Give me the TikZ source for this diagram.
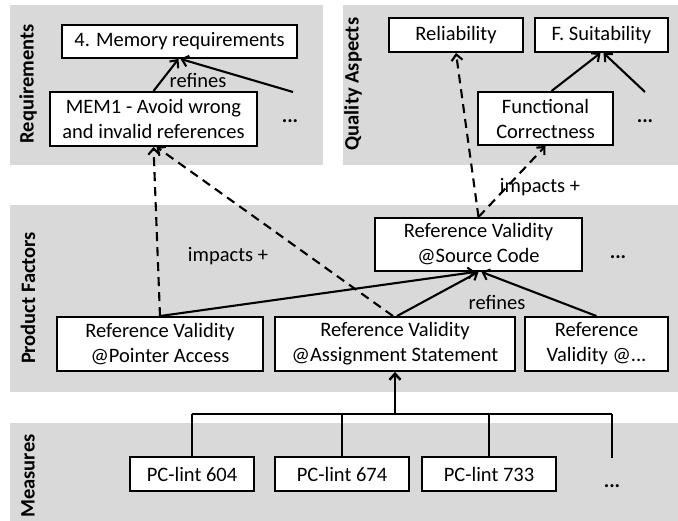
\documentclass[tikz,border=0pt]{standalone}
\usepackage{fontspec}
\setmainfont{Carlito}
\usetikzlibrary{arrows.meta}
\definecolor{panelgray}{RGB}{217,217,217}
\tikzset{
  panel/.style={fill=panelgray, draw=none},
  box/.style={draw=black, fill=white, line width=1.9pt, inner sep=0pt, align=center,
    font=\fontsize{20.5}{25}\selectfont},
  lbl/.style={font=\fontsize{20.5}{25}\selectfont, inner sep=0pt},
  dots/.style={font=\fontsize{20.5}{25}\selectfont\bfseries, inner sep=0pt},
  side/.style={font=\fontsize{20.5}{25}\selectfont\bfseries, rotate=90, inner sep=0pt},
  conn/.style={line width=2.1pt, -{Straight Barb[length=6pt,width=11pt,line width=2.1pt]}},
  dconn/.style={conn, dash pattern=on 9pt off 6pt},
  bus/.style={line width=2.8pt},
}
\begin{document}
\begin{tikzpicture}[x=1pt,y=-1pt]
\useasboundingbox (0,0) rectangle (678,521);
% panels
\fill[panel] (10,5) rectangle (323,165);
\fill[panel] (343,5) rectangle (678,165);
\fill[panel] (10,205) rectangle (678,392);
\fill[panel] (10,423) rectangle (678,521);
\node[side] (sreq) at (28,84) {Requirements};
\node[side] (sqa) at (353,84) {Quality Aspects};
\node[side] (spf) at (28,298) {Product Factors};
\node[side] (sme) at (28,476) {Measures};
% requirement nodes
\node[box, minimum width=235, minimum height=33] (mem4) at (179.5,41.5) {4. Memory requirements};
\node[box, minimum width=207, minimum height=54] (mem1) at (153.5,119) {MEM1 - Avoid wrong\\and invalid references};
\node[dots] (rdots) at (290,121) {...};
\coordinate (rfree) at (293,92);
% quality nodes
\node[box, minimum width=134, minimum height=34] (rel) at (456,35) {Reliability};
\node[box, minimum width=133, minimum height=34] (fs) at (601.5,35) {F. Suitability};
\node[box, minimum width=135, minimum height=53] (fc) at (545.5,118.5) {Functional\\Correctness};
\node[dots] (qdots) at (645,121) {...};
\coordinate (qfree) at (645,92);
% product factors
\node[box, minimum width=207, minimum height=53] (sc) at (478.5,244.5) {Reference Validity\\@Source Code};
\node[dots] (pdots) at (618,257) {...};
\node[box, minimum width=206, minimum height=54] (pa) at (160,344) {Reference Validity\\@Pointer Access};
\node[box, minimum width=240, minimum height=54] (as) at (395,344) {Reference Validity\\@Assignment Statement};
\node[box, minimum width=143, minimum height=54] (rv) at (596.5,344) {Reference\\Validity @...};
% measures
\node[box, minimum width=124, minimum height=34] (m1) at (192,474) {PC-lint 604};
\node[box, minimum width=134, minimum height=34] (m2) at (342,474) {PC-lint 674};
\node[box, minimum width=134, minimum height=34] (m3) at (489,474) {PC-lint 733};
\node[dots] (mdots) at (612,486) {...};
\coordinate (mfree) at (612,458);
% labels
\node[lbl] (ref1) at (198,80) {refines};
\node[lbl] (imp1) at (540,187) {impacts +};
\node[lbl] (imp2) at (228,256) {impacts +};
\node[lbl] (ref2) at (497,302) {refines};
% connectors requirements
\draw[conn] (mem1.north) -- ([xshift=-1pt]mem4.south);
\draw[conn] (rfree) -- ([xshift=1pt]mem4.south);
% quality
\draw[conn] ([xshift=6pt]fc.north) -- ([xshift=-1pt]fs.south);
\draw[conn] (qfree) -- ([xshift=2pt]fs.south);
% impacts
\draw[dconn] (sc.north) -- (rel.south);
\draw[dconn] (sc.north) -- (fc.south);
\draw[dconn] (pa.north) -- (mem1.south);
\draw[dconn] ([xshift=-2pt]as.north) -- ([xshift=3pt]mem1.south);
% refines product factors
\draw[conn] (pa.north) -- ([xshift=-3pt]sc.south);
\draw[conn] ([xshift=2pt]as.north) -- (sc.south);
\draw[conn] (rv.north) -- ([xshift=3pt]sc.south);
% measures tree
\coordinate (busc) at (395,414);
\draw[bus] (m1.north |- busc) -- (mfree |- busc);
\draw[bus] (m1.north |- busc) -- (m1.north);
\draw[bus] (m2.north |- busc) -- (m2.north);
\draw[bus] (m3.north |- busc) -- (m3.north);
\draw[bus] (mfree |- busc) -- (mfree);
\draw[bus, -{Straight Barb[length=6pt,width=11pt,line width=2.5pt]}] (busc) -- (as.south);
\end{tikzpicture}
\end{document}
